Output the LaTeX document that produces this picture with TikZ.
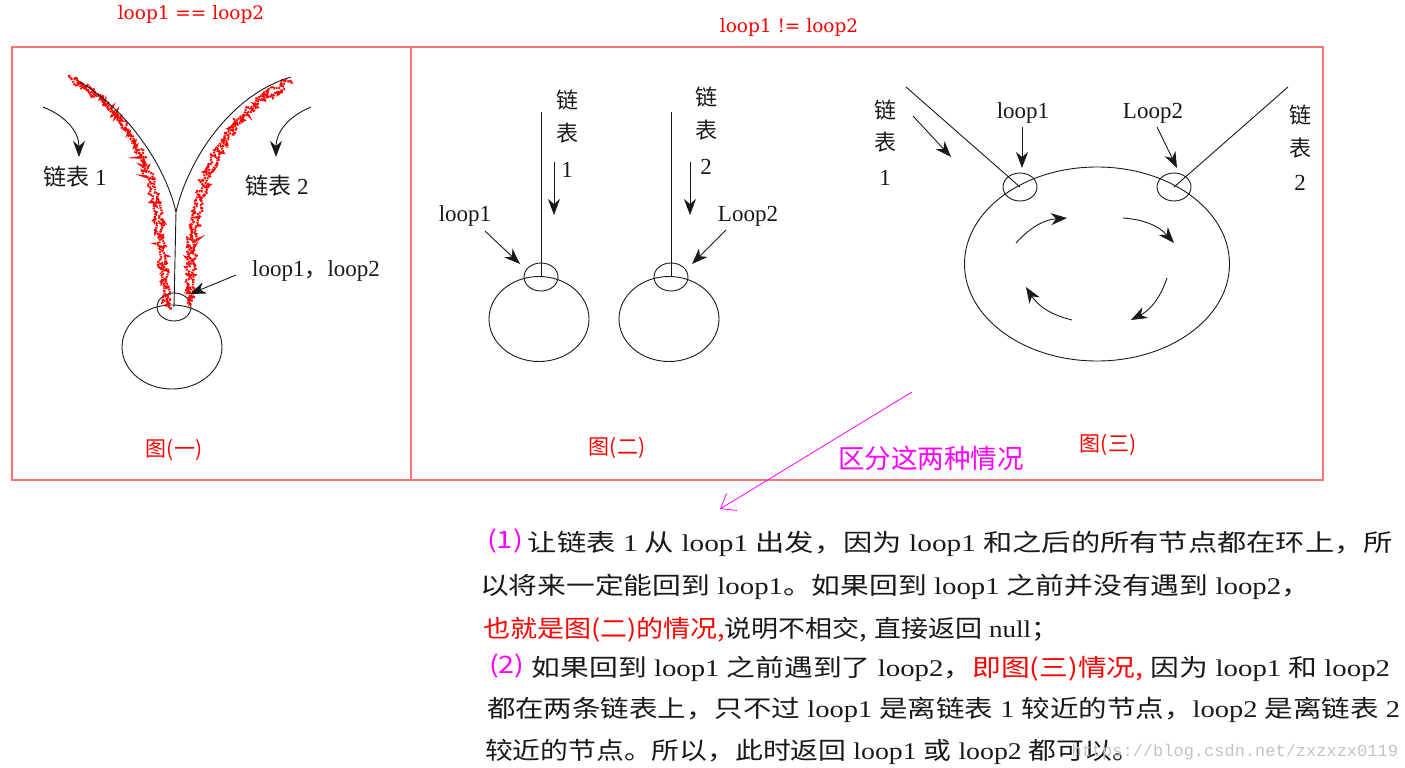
\documentclass[tikz,border=0pt]{standalone}
\usepackage{fontspec}
\usepackage{graphicx}
\usetikzlibrary{arrows.meta,decorations.pathmorphing,shapes.geometric}
\setmainfont{Liberation Serif}
\newfontfamily\zh{Noto Sans CJK SC}
\newfontfamily\dvs{DejaVu Serif}
\newfontfamily\mono{Liberation Mono}
\definecolor{framered}{RGB}{250,115,115}
\definecolor{lbl}{RGB}{255,0,0}
\definecolor{mag}{RGB}{255,0,255}
\definecolor{wm}{RGB}{195,195,195}
\definecolor{ink}{RGB}{25,25,25}
\begin{document}
\begin{tikzpicture}[x=1pt,y=-1pt,
  every node/.style={inner sep=0pt,outer sep=0pt},
  frame/.style={draw=framered,line width=1.6pt},
  inkline/.style={draw=ink,line width=0.9pt},
  tip/.style={-{Stealth[length=16pt,width=12pt,inset=5pt]}},
  lab/.style={font=\fontsize{23}{25}\selectfont,text=ink},
  zlab/.style={font=\zh\fontsize{22}{24}\selectfont,text=ink},
  figcap/.style={font=\zh\fontsize{21}{23}\selectfont,text=lbl},
  title/.style={font=\dvs\fontsize{18.5}{20}\selectfont,text=lbl},
  smallc/.style={ellipse,draw=ink,line width=0.9pt,minimum width=34pt,minimum height=28pt},
  ring/.style={ellipse,draw=ink,line width=0.9pt},
  scrib/.style={draw=lbl,line width=2.2pt,dash pattern=on 1.6pt off 0.9pt,decorate,decoration={random steps,segment length=1.8pt,amplitude=3pt}},
  tline/.style={anchor=west,font=\fontsize{24}{26}\selectfont,text=ink}
]
\useasboundingbox (0,0) rectangle (1405,768);
\pgfmathsetseed{7}
% frame
\draw[frame] (12,47) rectangle (1323,480);
\draw[frame] (411,47) -- (411,480);
% titles
\node[title] (tt1) at (191,14) {loop1 == loop2};
\node[title] (tt2) at (789,27) {loop1 != loop2};

% ---------- panel 1 ----------
\node[ring,minimum width=100pt,minimum height=84pt] (r1) at (172,347) {};
\node[smallc] (s1) at (174,307) {};
\coordinate (y1) at (176,212);
\coordinate (b1a) at (80,82);
\coordinate (b1b) at (291,77);
\draw[scrib] (68,76) .. controls (125,106) and (152,160) .. (160,215) .. controls (164,250) and (167,280) .. (169,309);
\draw[scrib] (73,81) .. controls (128,110) and (147,165) .. (155,215) .. controls (159,250) and (162,280) .. (165,305);
\draw[scrib] (290,80) .. controls (245,98) and (210,150) .. (196,200) .. controls (188,240) and (186,275) .. (190,306);
\draw[scrib] (285,89) .. controls (240,106) and (214,156) .. (201,204) .. controls (194,240) and (192,275) .. (193,300);
\draw[inkline] (b1a) .. controls (130,112) and (166,168) .. (y1);
\draw[inkline] (b1b) .. controls (230,95) and (188,160) .. (y1);
\draw[inkline] (y1) -- (s1.center);
\coordinate (a1s) at (43,107); \coordinate (a1e) at (79,157);
\draw[inkline,tip] (a1s) .. controls (66,116) and (79,132) .. (a1e);
\coordinate (a2s) at (311,107); \coordinate (a2e) at (276,157);
\draw[inkline,tip] (a2s) .. controls (289,116) and (276,132) .. (a2e);
\node[lab] (t11) at (75,177) {{\zh 链表} 1};
\node[lab] (t12) at (277,186) {{\zh 链表} 2};
\node[lab] (t13) at (316,271) {loop1{\zh ，}loop2};
\coordinate (a3s) at (236,275); \coordinate (a3e) at (190,294);
\draw[inkline,tip] (a3s) -- (a3e);
\node[figcap] (c1) at (174,450) {图(一)};

% ---------- panel 2 ----------
\node[ring,minimum width=100pt,minimum height=85pt] (r2) at (539,319) {};
\node[smallc] (s2) at (541,277) {};
\coordinate (l2t) at (541,112);
\draw[inkline] (l2t) -- (s2.center);
\node[zlab] (p2a) at (567,100) {链};
\node[zlab] (p2b) at (567,133) {表};
\node[lab]  (p2c) at (567,170) {1};
\coordinate (a4s) at (554,162); \coordinate (a4e) at (554,215);
\draw[inkline,tip] (a4s) -- (a4e);
\node[lab] (p2l) at (465,216) {loop1};
\coordinate (a5s) at (485,231); \coordinate (a5e) at (520,264);
\draw[inkline,tip] (a5s) -- (a5e);

\node[ring,minimum width=100pt,minimum height=85pt] (r3) at (669,319) {};
\node[smallc] (s3) at (671,277) {};
\coordinate (l3t) at (671,112);
\draw[inkline] (l3t) -- (s3.center);
\node[zlab] (p3a) at (706,97) {链};
\node[zlab] (p3b) at (706,130) {表};
\node[lab]  (p3c) at (706,167) {2};
\coordinate (a6s) at (690,162); \coordinate (a6e) at (690,215);
\draw[inkline,tip] (a6s) -- (a6e);
\node[lab] (p3l) at (748,216) {Loop2};
\coordinate (a7s) at (726,230); \coordinate (a7e) at (692,264);
\draw[inkline,tip] (a7s) -- (a7e);
\node[figcap] (c2) at (617,448) {图(二)};

% ---------- panel 3 ----------
\node[ring,minimum width=265pt,minimum height=194pt] (r4) at (1097,264) {};
\node[smallc] (s4) at (1020,187) {};
\node[smallc] (s5) at (1174,187) {};
\coordinate (l4t) at (906,87);
\coordinate (l5t) at (1288,87);
\draw[inkline] (l4t) -- (s4.center);
\draw[inkline] (l5t) -- (s5.center);
\node[zlab] (q1a) at (885,110) {链};
\node[zlab] (q1b) at (885,142) {表};
\node[lab]  (q1c) at (885,178) {1};
\node[zlab] (q2a) at (1300,115) {链};
\node[zlab] (q2b) at (1300,148) {表};
\node[lab]  (q2c) at (1300,183) {2};
\coordinate (a8s) at (913,116); \coordinate (a8e) at (951,157);
\draw[inkline,tip] (a8s) -- (a8e);
\node[lab] (q3) at (1023,113) {loop1};
\coordinate (a9s) at (1022,127); \coordinate (a9e) at (1022,168);
\draw[inkline,tip] (a9s) -- (a9e);
\node[lab] (q4) at (1153,113) {Loop2};
\coordinate (b1s) at (1157,127); \coordinate (b1e) at (1177,168);
\draw[inkline,tip] (b1s) -- (b1e);
\coordinate (c1s) at (1016,243); \coordinate (c1e) at (1067,218);
\coordinate (c2s) at (1123,218); \coordinate (c2e) at (1174,243);
\coordinate (c3s) at (1167,278); \coordinate (c3e) at (1131,320);
\coordinate (c4s) at (1072,320); \coordinate (c4e) at (1026,287);
\draw[inkline,tip] (c1s) to[bend left=22] (c1e);
\draw[inkline,tip] (c2s) to[bend left=22] (c2e);
\draw[inkline,tip] (c3s) to[bend left=22] (c3e);
\draw[inkline,tip] (c4s) to[bend left=22] (c4e);
\node[figcap] (c3) at (1108,445) {图(三)};

% ---------- magenta note ----------
\node[font=\zh\fontsize{26.5}{28}\selectfont,text=mag] (note) at (931,458) {区分这两种情况};
\coordinate (m1) at (912,392); \coordinate (m2) at (720,509);
\draw[draw=mag,line width=0.8pt,-{Straight Barb[length=13pt,width=20pt]}] (m1) -- (m2);

% ---------- text block ----------
\node[tline] (tl1) at (487,543) {\resizebox{906pt}{\height}{\textcolor{mag}{\zh\raisebox{3pt}{(1)}}\,{\zh 让链表} 1 {\zh 从} loop1 {\zh 出发，因为} loop1 {\zh 和之后的所有节点都在环上，所}}};
\node[tline] (tl2) at (480,587) {\resizebox{830pt}{\height}{{\zh 以将来一定能回到} loop1{\zh 。如果回到} loop1 {\zh 之前并没有遇到} loop2{\zh ，}}};
\node[tline] (tl3) at (483,630) {\resizebox{575pt}{\height}{\textcolor{lbl}{\zh 也就是图(二)的情况,}{\zh 说明不相交,} {\zh 直接返回} null{\zh ；}}};
\node[tline] (tl4) at (489,668) {\resizebox{901pt}{\height}{\textcolor{mag}{\zh\raisebox{3pt}{(2)}} {\zh 如果回到} loop1 {\zh 之前遇到了} loop2{\zh ，}\textcolor{lbl}{\zh 即图(三)情况,} {\zh 因为} loop1 {\zh 和} loop2}};
\node[tline] (tl5) at (487,710) {\resizebox{913pt}{\height}{{\zh 都在两条链表上，只不过} loop1 {\zh 是离链表} 1 {\zh 较近的节点，}loop2 {\zh 是离链表} 2}};
\node[tline] (tl6) at (485,752) {\resizebox{655pt}{\height}{{\zh 较近的节点。所以，此时返回} loop1 {\zh 或} loop2 {\zh 都可以。}}};
\node[anchor=east,font=\mono\fontsize{17}{19}\selectfont,text=wm] (wmk) at (1398,752) {https://blog.csdn.net/zxzxzx0119};
\end{tikzpicture}
\end{document}
